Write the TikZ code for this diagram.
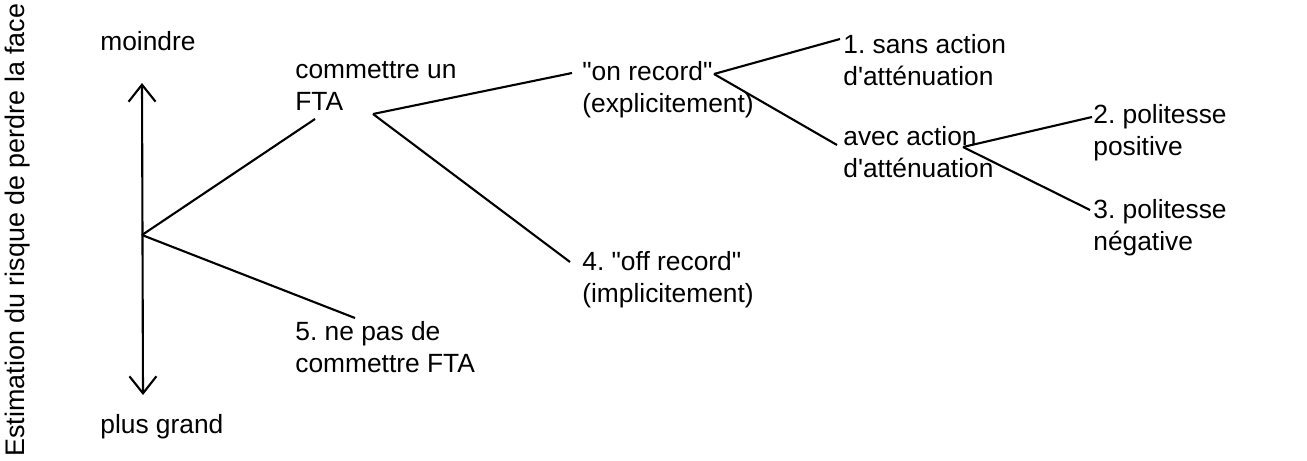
\documentclass[tikz,border=0pt]{standalone}
\usepackage{fontspec}
\setmainfont{Liberation Sans}[Ligatures=TeXOff]
\usepackage{tikz}
\usetikzlibrary{arrows.meta}
\frenchspacing

\begin{document}
\begin{tikzpicture}[x=0.02cm,y=-0.02cm,
  lbl/.style={anchor=north west,inner sep=0pt,align=left,
    font=\fontsize{15}{18.2}\selectfont},
  branch/.style={black,line width=1.2pt}]
\useasboundingbox (0,0) rectangle (1307,460);

% axe vertical
\node[rotate=90,inner sep=0pt,font=\fontsize{15.3}{18}\selectfont] (axis) at (18,230) {Estimation du risque de perdre la face};
\node[lbl] (less) at (100,31) {moindre};
\node[lbl] (more) at (100,414) {plus grand};
\coordinate (top) at (142,83);
\coordinate (bot) at (143,395);
\draw[branch,<->,>={Straight Barb[length=3.4mm,width=5.4mm]}] (top) -- (bot);

% noeuds
\node[lbl] (fta) at (295,61) {commettre un\\FTA};
\node[lbl] (nofta) at (295,321) {5. ne pas de\\commettre FTA};
\node[lbl] (on) at (582,61) {"on record"\\(explicitement)};
\node[lbl] (off) at (582,251) {4. "off record"\\(implicitement)};
\node[lbl] (sans) at (843,34) {1. sans action\\d'atténuation};
\node[lbl] (avec) at (843,126) {avec action\\d'atténuation};
\node[lbl] (pos) at (1093,104) {2. politesse\\positive};
\node[lbl] (neg) at (1093,199) {3. politesse\\négative};

% points de jonction
\coordinate (root) at (142,235);
\coordinate (jfta) at (373,114);
\coordinate (jon) at (714,74);
\coordinate (javec) at (963,147);

\draw[branch] (root) -- (315,119);
\draw[branch] (root) -- (355,318);
\draw[branch] (jfta) -- (572,73);
\draw[branch] (jfta) -- (570,262);
\draw[branch] (jon) -- (840,39);
\draw[branch] (jon) -- (837,145);
\draw[branch] (javec) -- (1092,117);
\draw[branch] (javec) -- (1090,210);

\end{tikzpicture}
\end{document}
